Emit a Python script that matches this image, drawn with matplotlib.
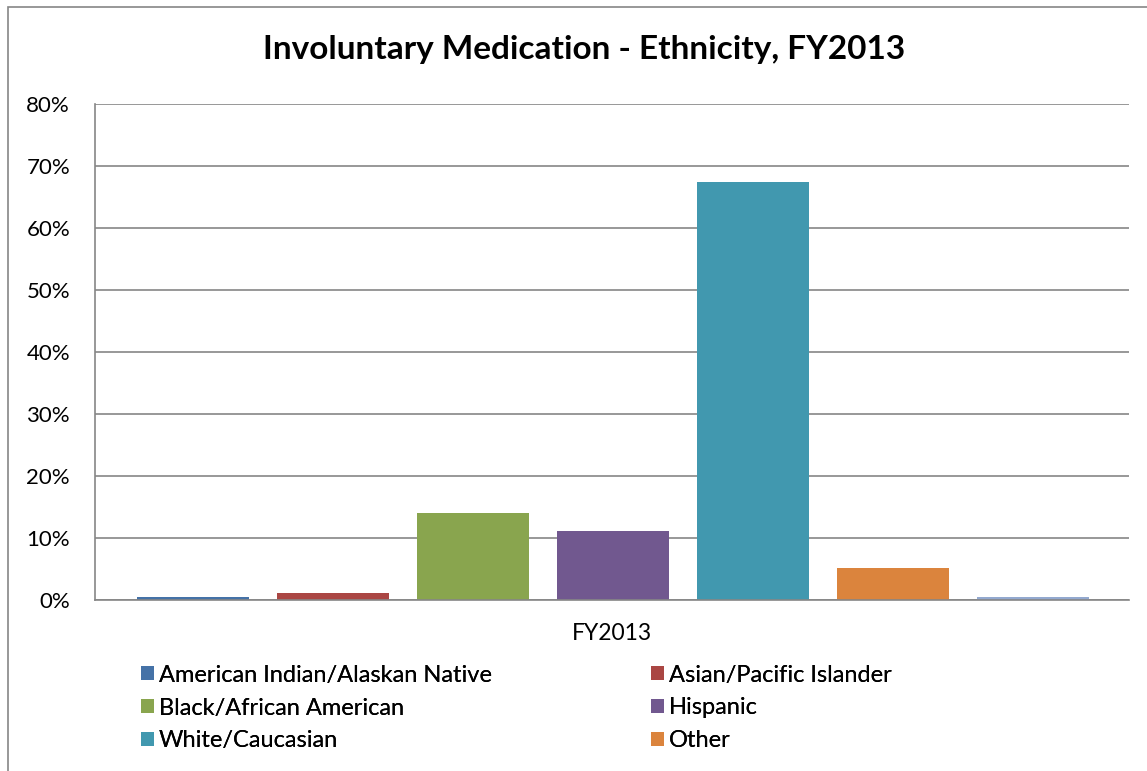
import matplotlib.pyplot as plt
from matplotlib.patches import Rectangle

plt.rcParams['font.family'] = ['Lato', 'DejaVu Sans']

# Données
categories = ['American Indian/Alaskan Native', 'Asian/Pacific Islander', 'Black/African American',
              'Hispanic', 'White/Caucasian', 'Other', '']
values = [0.5, 1.1, 14.0, 11.1, 67.5, 5.2, 0.5]
colors = ['#4572A7', '#AA4643', '#89A54E', '#71588F', '#4198AF', '#DB843D', '#93A9CF']
yticks = [0, 10, 20, 30, 40, 50, 60, 70, 80]

W, H = 1147, 771
fig = plt.figure(figsize=(W / 100, H / 100), dpi=100)
ax = fig.add_axes([95 / W, (H - 600) / H, 1034 / W, 496 / H])

# Bordure du graphique
fig.patches.append(Rectangle((8 / W, -0.1), 1.2, (H - 7) / H + 0.1, transform=fig.transFigure,
                             fill=False, edgecolor='#868686', linewidth=1.2))

bars = []
for i, (cat, val, col) in enumerate(zip(categories, values, colors)):
    bar = ax.bar(i, val, width=0.8, color=col, zorder=2)
    bars.append(bar)

ax.set_xlim(-0.7, 6.686)
ax.set_ylim(0, 80)
ax.set_yticks(yticks)
ax.set_yticklabels([f'{t}%' for t in yticks], fontsize=16)
ax.set_xticks([])
ax.grid(axis='y', color='#868686', linewidth=1.2, zorder=0)
for side in ['top', 'right']:
    ax.spines[side].set_visible(False)
for side in ['left', 'bottom']:
    ax.spines[side].set_color('#868686')
    ax.spines[side].set_linewidth(1.2)
ax.tick_params(axis='y', length=0, pad=18)

fig.text((95 + 1129) / 2 / W, (H - 634) / H, 'FY2013', fontsize=16.5, ha='center', va='center')
fig.text(584 / W, (H - 50) / H, 'Involuntary Medication - Ethnicity, FY2013', fontsize=24, fontweight='bold',
         ha='center', va='center')

# Légende : deux colonnes placées séparément
columns = [([0, 2, 4], 141), ([1, 3, 5], 651)]
for idx, xpos in columns:
    leg = fig.legend([bars[k] for k in idx], [categories[k] for k in idx],
                     loc='center left', bbox_to_anchor=(xpos / W, (H - 708) / H), frameon=False,
                     fontsize=17, handlelength=0.55, handleheight=0.55, handletextpad=0.2,
                     labelspacing=0.5, borderpad=0, borderaxespad=0)
    fig.add_artist(leg)

fig.savefig('out.png', dpi=100)
